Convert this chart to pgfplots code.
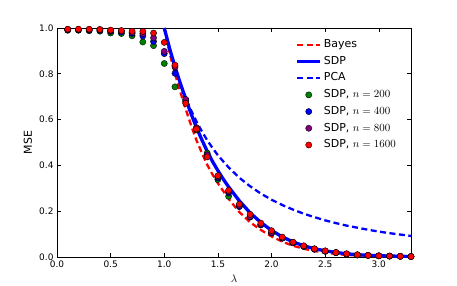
\documentclass[border=0pt]{standalone}
\usepackage{fontspec}
\setmainfont{DejaVu Sans}
\usepackage{pgfplots}
\pgfplotsset{compat=1.18}
\definecolor{mplgreen}{RGB}{0,128,0}
\definecolor{mplblue}{RGB}{0,0,255}
\definecolor{mplpurple}{RGB}{128,0,128}
\definecolor{mplred}{RGB}{255,0,0}
\pgfplotsset{mylegend/.style={legend image code/.code={\draw[mark repeat=2,mark phase=2,##1] plot coordinates {(0bp,0bp) (11.5bp,0bp) (23bp,0bp)};}}}
\pgfplotsset{dots/.style={only marks, mark=*, mark size=3.1bp, mark options={draw=black, line width=0.4bp, fill=#1}, mylegend}}
\begin{document}
\begin{tikzpicture}
\useasboundingbox (-57bp,-29bp) rectangle (400bp,257bp);
\begin{axis}[
  at={(0,0)}, anchor=south west,
  scale only axis, width=354bp, height=229bp,
  xmin=0, xmax=3.3, ymin=0, ymax=1,
  xtick={0,0.5,1,1.5,2,2.5,3},
  ytick={0,0.2,0.4,0.6,0.8,1},
  xticklabel style={/pgf/number format/fixed,/pgf/number format/fixed zerofill,/pgf/number format/precision=1},
  yticklabel style={/pgf/number format/fixed,/pgf/number format/fixed zerofill,/pgf/number format/precision=1},
  /pgf/number format/assume math mode=true,
  ticklabel style={font=\fontsize{9}{11}\selectfont},
  tick align=inside, major tick length=4bp,
  tick style={black, line width=0.6bp},
  axis line style={black, line width=0.8bp},
  xlabel={$\lambda$}, ylabel={MSE},
  label style={font=\fontsize{11}{13}\selectfont},
  xlabel style={at={([yshift=-22bp]axis description cs:0.5,0)}, anchor=center},
  ylabel style={at={([xshift=-29bp]axis description cs:0,0.5)}, anchor=center},
  legend style={draw=none, fill=none, at={(0.665,0.968)}, anchor=north west,
    font=\fontsize{11}{13}\selectfont,
    nodes={text height=8bp, text depth=2.5bp, inner sep=2bp},
    row sep=2.2bp,
    /tikz/every even column/.append style={column sep=6bp}},
  legend cell align=left,
  clip=true,
]
\addplot[mplred, line width=2.3bp, dash pattern=on 6bp off 3.5bp, mylegend] coordinates {
(1.0,1.0) (1.05,0.89) (1.1,0.80) (1.15,0.72) (1.2,0.645) (1.25,0.575) (1.3,0.51) (1.35,0.455) (1.4,0.403) (1.45,0.36) (1.5,0.322) (1.6,0.254) (1.7,0.196) (1.8,0.152) (1.9,0.118) (2.0,0.09) (2.1,0.067) (2.2,0.049) (2.3,0.036) (2.4,0.026) (2.5,0.019) (2.6,0.013) (2.7,0.009) (2.8,0.007) (3.0,0.004) (3.3,0.0015)
};
\addlegendentry{Bayes}
\addplot[mplblue, line width=3.3bp, mylegend] coordinates {
(1.0,1.0) (1.05,0.91) (1.1,0.83) (1.15,0.758) (1.2,0.69) (1.25,0.625) (1.3,0.566) (1.35,0.512) (1.4,0.462) (1.45,0.417) (1.5,0.377) (1.55,0.34) (1.6,0.306) (1.7,0.245) (1.8,0.193) (1.9,0.151) (2.0,0.116) (2.1,0.088) (2.2,0.066) (2.3,0.049) (2.4,0.036) (2.5,0.027) (2.6,0.02) (2.7,0.014) (2.8,0.01) (3.0,0.0055) (3.3,0.002)
};
\addlegendentry{SDP}
\addplot[mplblue, line width=2.3bp, dash pattern=on 6bp off 3.5bp, mylegend] coordinates {
(1.0,1.0) (1.05,0.907) (1.1,0.826) (1.15,0.756) (1.2,0.694) (1.25,0.64) (1.3,0.592) (1.35,0.549) (1.4,0.510) (1.45,0.476) (1.5,0.444) (1.6,0.391) (1.7,0.346) (1.8,0.309) (1.9,0.277) (2.0,0.25) (2.1,0.227) (2.2,0.207) (2.3,0.189) (2.4,0.174) (2.5,0.16) (2.6,0.148) (2.7,0.137) (2.8,0.128) (2.9,0.119) (3.0,0.111) (3.1,0.104) (3.2,0.098) (3.3,0.092)
};
\addlegendentry{PCA}
\addplot[dots=mplgreen] coordinates {
(0.1,0.99) (0.2,0.99) (0.3,0.988) (0.4,0.986) (0.5,0.978) (0.6,0.976) (0.7,0.966) (0.8,0.939) (0.9,0.923) (1.0,0.845) (1.1,0.743) (1.2,0.68) (1.3,0.555) (1.4,0.454) (1.5,0.338) (1.6,0.265) (1.7,0.222) (1.8,0.174) (1.9,0.14) (2.0,0.104) (2.1,0.082) (2.2,0.062) (2.3,0.046) (2.4,0.034) (2.5,0.025) (2.6,0.019) (2.7,0.013) (2.8,0.009) (2.9,0.007) (3.0,0.005) (3.1,0.004) (3.2,0.003) (3.3,0.002)
};
\addlegendentry{SDP, $n=200$}
\addplot[dots=mplblue] coordinates {
(0.1,0.992) (0.2,0.992) (0.3,0.991) (0.4,0.99) (0.5,0.985) (0.6,0.982) (0.7,0.976) (0.8,0.965) (0.9,0.941) (1.0,0.888) (1.1,0.802) (1.2,0.686) (1.3,0.56) (1.4,0.446) (1.5,0.345) (1.6,0.28) (1.7,0.22) (1.8,0.177) (1.9,0.141) (2.0,0.105) (2.1,0.083) (2.2,0.062) (2.3,0.046) (2.4,0.034) (2.5,0.025) (2.6,0.019) (2.7,0.013) (2.8,0.009) (2.9,0.007) (3.0,0.005) (3.1,0.004) (3.2,0.003) (3.3,0.002)
};
\addlegendentry{SDP, $n=400$}
\addplot[dots=mplpurple] coordinates {
(0.1,0.993) (0.2,0.993) (0.3,0.992) (0.4,0.992) (0.5,0.988) (0.6,0.986) (0.7,0.98) (0.8,0.975) (0.9,0.957) (1.0,0.898) (1.1,0.83) (1.2,0.688) (1.3,0.565) (1.4,0.446) (1.5,0.35) (1.6,0.285) (1.7,0.225) (1.8,0.176) (1.9,0.142) (2.0,0.106) (2.1,0.083) (2.2,0.063) (2.3,0.047) (2.4,0.035) (2.5,0.026) (2.6,0.019) (2.7,0.013) (2.8,0.009) (2.9,0.007) (3.0,0.005) (3.1,0.004) (3.2,0.003) (3.3,0.002)
};
\addlegendentry{SDP, $n=800$}
\addplot[dots=mplred] coordinates {
(0.1,0.995) (0.2,0.995) (0.3,0.995) (0.4,0.994) (0.5,0.991) (0.6,0.989) (0.7,0.986) (0.8,0.985) (0.9,0.978) (1.0,0.937) (1.1,0.838) (1.2,0.671) (1.3,0.559) (1.4,0.437) (1.5,0.355) (1.6,0.291) (1.7,0.231) (1.8,0.186) (1.9,0.148) (2.0,0.115) (2.1,0.087) (2.2,0.065) (2.3,0.049) (2.4,0.036) (2.5,0.027) (2.6,0.02) (2.7,0.014) (2.8,0.01) (2.9,0.007) (3.0,0.005) (3.1,0.004) (3.2,0.003) (3.3,0.002)
};
\addlegendentry{SDP, $n=1600$}
\end{axis}
\end{tikzpicture}
\end{document}
